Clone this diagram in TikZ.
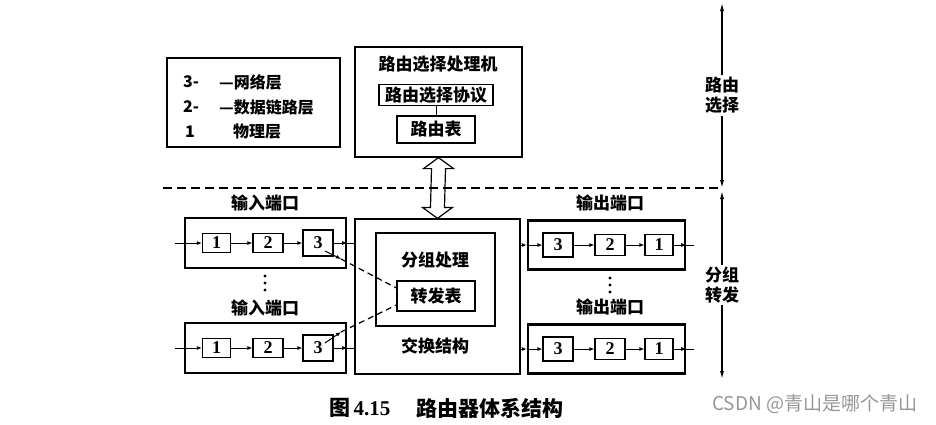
\documentclass[tikz,border=0pt]{standalone}
\usepackage{fontspec}
\usepackage{tikz}
\usetikzlibrary{arrows.meta, calc, positioning}
\newfontfamily\cjk{Noto Sans CJK SC}
\newfontfamily\digitfont{Liberation Serif}
\definecolor{markgray}{RGB}{150, 150, 150}

\begin{document}
\begin{tikzpicture}[x=1pt,y=-1pt,
          box/.style={draw,line width=1.2pt,inner sep=0pt,align=center},
          txt/.style={font=\cjk\bfseries\fontsize{17}{20}\selectfont,inner sep=0pt,align=center},
          legtxt/.style={font=\cjk\bfseries\fontsize{16}{19}\selectfont,inner sep=0pt,anchor=west},
          port/.style={draw,line width=2.4pt,inner sep=0pt,minimum width=161pt,minimum height=50pt},
          cell/.style={draw,line width=1.2pt,inner sep=0pt,minimum width=28pt,minimum height=19pt,
                       font=\digitfont\bfseries\fontsize{18}{18}\selectfont},
          arr/.style={-{Latex[length=5pt,width=4pt]},line width=1pt},
          lookup/.style={dash pattern=on 6pt off 4pt,line width=1.2pt},
          span/.style={{Latex[length=8pt,width=4pt]}-{Latex[length=8pt,width=4pt]},line width=1.2pt}]
        \useasboundingbox (0,0) rectangle (936,424);
        % legend
        \node[box,minimum width=173pt,minimum height=89pt](leg) at (253.5,102.5){};
        \node[legtxt](n3) at (183,82){3-};
        \node[legtxt](l3) at (219,82){—网络层};
        \node[legtxt](n2) at (183,107){2-};
        \node[legtxt](l2) at (219,107){—数据链路层};
        \node[legtxt](n1) at (185,132){1};
        \node[legtxt](l1) at (233,132){物理层};
        % routing processor
        \node[box,minimum width=167pt,minimum height=110pt](proc) at (438.5,102){};
        \node[txt](proct) at (438,64){路由选择处理机};
        \node[box,txt,minimum width=114pt,minimum height=21pt](proto) at (436,95){路由选择协议};
        \node[box,txt,minimum width=78pt,minimum height=27pt](rtab) at (436,129.5){路由表};
        \draw[line width=1pt](proto)--(rtab);
        % switch fabric
        \node[box,minimum width=165pt,minimum height=155pt](sw) at (437.5,296.5){};
        \node[box,minimum width=119pt,minimum height=93pt](pkt) at (435.5,279.5){};
        \node[txt](pktt) at (435,260){分组处理};
        \node[box,txt,minimum width=78pt,minimum height=30pt](fwd) at (436,296){转发表};
        \node[txt](swt) at (435,346){交换结构};
        % separator and side arrows
        \coordinate(rtop) at (722,3);
        \coordinate(rmid) at (722,188);
        \coordinate(rmid2) at (722,191);
        \coordinate(rbot) at (722,379);
        \coordinate(sep) at (163,188);
        \draw[dash pattern=on 9pt off 5pt,line width=1.2pt](sep)--(rmid);
        \draw[span](rtop)--(rmid) node[midway,txt,fill=white,inner sep=2pt]{路由\\选择};
        \draw[span](rmid2)--(rbot) node[midway,txt,fill=white,inner sep=2pt]{分组\\转发};
        % hollow double arrow
        \coordinate(dtop) at (proc.south);
        \coordinate(dbot) at (sw.north);
        \draw[line width=1.2pt](dtop)--++(15,11)--++(-8,0)--($(dbot)+(7,-11)$)--++(8,0)--(dbot)
             --++(-15,-11)--++(8,0)--($(dtop)+(-7,11)$)--++(-8,0)--cycle;
        % input ports
        \foreach \n/\y in {A/243,B/348}{
          \node[port](in\n) at (265.5,\y){};
          \node[txt](inl\n) at (265,\y-40){输入端口};
          \node[cell](in\n1) at (216.5,\y){1};
          \node[cell,minimum width=30pt](in\n2) at (268,\y){2};
          \node[cell,minimum width=30pt,minimum height=26pt](in\n3) at (318,\y){3};
          \coordinate(ie\n) at (175,\y);
          \draw[arr](ie\n)--(in\n1);
          \draw[arr](in\n1)--(in\n2);
          \draw[arr](in\n2)--(in\n3);
          \draw[arr](in\n3)--(in\n.east);
          \draw[line width=1pt](in\n.east)--(sw.west |- in\n.east);
        }
        % output ports
        \foreach \n/\y in {A/245,B/349}{
          \node[port,minimum width=157pt,minimum height=49pt](out\n) at (606.5,\y){};
          \node[txt](outl\n) at (610,\y-42){输出端口};
          \node[cell,minimum width=30pt,minimum height=24pt](out\n3) at (558,\y){3};
          \node[cell,minimum width=30pt,minimum height=21pt](out\n2) at (610,\y){2};
          \node[cell,minimum height=21pt](out\n1) at (659,\y){1};
          \coordinate(oe\n) at (694,\y);
          \draw[arr](sw.east |- out\n.west)--(out\n.west);
          \draw[arr](out\n.west)--(out\n3);
          \draw[arr](out\n3)--(out\n2);
          \draw[arr](out\n2)--(out\n1);
          \draw[arr](out\n1)--(out\n.east);
          \draw[line width=1pt](out\n.east)--(oe\n);
        }
        % dots between ports
        \foreach \d in {0,7,14}{
          \fill (265,276+\d) circle (1.6pt);
          \fill (610,278+\d) circle (1.6pt);
        }
        % table lookups
        \coordinate(qa) at (325,251);
        \coordinate(ta) at (341,259);
        \coordinate(qb) at (325,343);
        \coordinate(tb) at (341,332);
        \draw[arr](qa)--(ta);
        \draw[lookup](ta)--($(fwd.west)+(0,-8)$);
        \draw[arr](qb)--(tb);
        \draw[lookup](tb)--($(fwd.west)+(0,9)$);
        % caption
        \node[anchor=west,inner sep=0pt,font=\fontsize{21}{21}\selectfont](fig) at (329,408){{\cjk\bfseries 图}\,{\digitfont\bfseries 4.15}};
        \node[anchor=west,inner sep=0pt,font=\cjk\bfseries\fontsize{21}{21}\selectfont](figt) at (416,408){路由器体系结构};
        \node[anchor=west,inner sep=0pt,text=markgray,font=\cjk\fontsize{19}{19}\selectfont](mark) at (712,404){CSDN @青山是哪个青山};
      \end{tikzpicture}
\end{document}
